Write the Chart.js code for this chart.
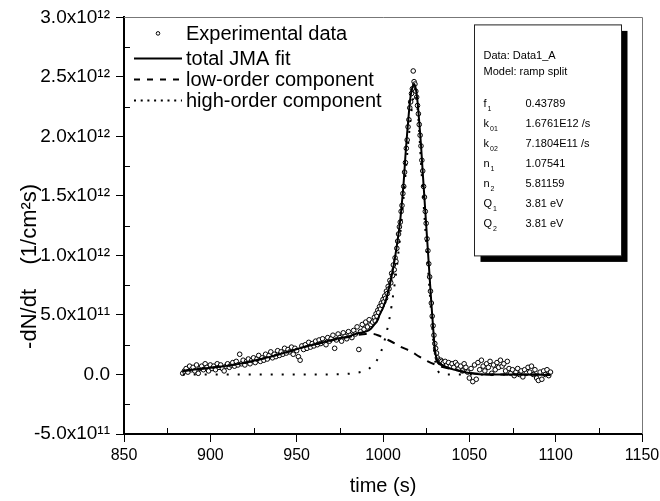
<!DOCTYPE html>
<html>
<head>
<meta charset="utf-8">
<script src="https://cdn.jsdelivr.net/npm/chart.js@4.4.0/dist/chart.umd.min.js"></script>
<style>
  html, body { margin: 0; padding: 0; background: #fff; }
</style>
</head>
<body>
<canvas id="tds" width="660" height="501"></canvas>
<script>
// all rates are in units of 1e10 1/(cm^2 s)
var RATE_UNIT = 1e10;

var expTime = [884, 885, 886, 887, 888, 889, 890, 891, 892, 893, 894, 895, 896, 897, 898, 899,
  900, 901, 902, 903, 904, 905, 906, 907, 908, 909, 910, 911, 912, 913, 914, 915, 916, 917, 918, 919,
  920, 921, 922, 923, 924, 925, 926, 927, 928, 929, 930, 931, 932, 933, 934, 935, 936, 937, 938, 939,
  940, 941, 942, 943, 944, 945, 946, 947, 948, 949, 950, 951, 952, 953, 954, 955, 956, 957, 958, 959,
  960, 961, 962, 963, 964, 965, 966, 967, 968, 969, 970, 971, 972, 973, 974, 975, 976, 977, 978, 979,
  980, 981, 982, 983, 984, 985, 986, 987, 988, 989, 990, 991, 992, 993, 994,
  995, 995.5, 996, 996.5, 997, 997.5, 998, 998.5, 999, 999.5, 1000, 1000.5, 1001, 1001.5, 1002, 1002.5,
  1003, 1003.5, 1004, 1004.5, 1005, 1005.5, 1006, 1006.5, 1007, 1007.5, 1008, 1008.5, 1009, 1009.5,
  1010, 1010.5, 1011, 1011.5, 1012, 1012.5, 1013, 1013.5, 1014, 1014.5, 1015, 1015.5, 1016, 1016.5,
  1017, 1017.5, 1018, 1018.5, 1019, 1019.5, 1020, 1020.5, 1021, 1021.5, 1022, 1022.5, 1023, 1023.5,
  1024, 1024.5, 1025, 1025.5, 1026, 1026.5, 1027, 1027.5, 1028, 1028.5, 1029, 1029.5, 1030, 1030.5,
  1031, 1031.5, 1032, 1032.5, 1033, 1033.5, 1034, 1034.5, 1035,
  1036, 1037, 1038, 1039, 1040, 1041, 1042, 1043, 1044, 1045, 1046, 1047, 1048, 1049, 1050, 1051,
  1052, 1053, 1054, 1055, 1056, 1057, 1058, 1059, 1060, 1061, 1062, 1063, 1064, 1065, 1066, 1067,
  1068, 1069, 1070, 1071, 1072, 1073, 1074, 1075, 1076, 1077, 1078, 1079, 1080, 1081, 1082, 1083,
  1084, 1085, 1086, 1087, 1088, 1089, 1090, 1091, 1092, 1093, 1094, 1095, 1096, 1097];
var expRate = [1, 3, 5, 2, 7, 4, 6, 3, 8, 1, 5, 7, 4, 9, 6, 3,
  8, 5, 7, 4, 9, 6, 8, 5, 3, 7, 9, 6, 8, 10, 7, 11, 8, 17, 9, 12,
  8, 11, 13, 9, 12, 14, 10, 13, 16, 11, 14, 12, 17, 13, 16, 19, 14, 17, 15, 20,
  16, 19, 17, 22, 18, 21, 19, 23, 17, 22, 20, 15, 12, 24, 21, 25, 22, 27, 23, 26,
  24, 28, 25, 29, 26, 30, 27, 25, 31, 28, 30, 33, 22, 29, 34, 31, 28, 35, 32, 30,
  36, 33, 31, 37, 34, 40, 21, 36, 42, 38, 44, 40, 46, 42, 44,
  48, 45, 51, 49, 54, 52, 57, 55, 60, 58, 63, 61, 66, 64, 70, 68,
  74, 72, 79, 77, 85, 83, 92, 88, 98, 95, 106, 112, 118, 124,
  128, 137, 142, 152, 158, 170, 178, 190, 197, 208, 214, 224, 229, 236,
  240, 255, 246, 244, 238, 233, 226, 219, 210, 201, 192, 180, 171, 158,
  149, 137, 127, 114, 104, 93, 82, 70, 60, 49, 41, 33, 26, 22,
  18, 14, 12, 11, 10, 12, 11, 9, 10,
  11, 8, 10, 7, 9, 6, 10, 8, 5, 7, 3, 9, 6, 2, -3, 5,
  -6, 8, -4, 10, 4, 12, 7, 3, 9, 6, 11, 1, 8, 4, 10, 6,
  12, 7, 9, 3, 11, 5, 1, 4, -1, 2, 5, 0, 3, -2, 4, 1,
  6, 2, 7, 0, 4, -3, -5, 2, -4, 3, 0, 4, -1, 2];

var fitTime = [884, 896, 905, 915, 925, 935, 945, 954, 964, 973, 980, 985, 990, 993, 995, 997, 998,
  1000, 1002, 1004, 1006, 1008, 1010, 1011, 1012, 1013, 1014, 1015, 1016, 1017, 1018, 1019, 1020,
  1021, 1022, 1023, 1024, 1025, 1026, 1027, 1028, 1029, 1030, 1031, 1032, 1034, 1036, 1040, 1046,
  1050, 1056, 1065, 1080, 1097];
var fitTotal = [3, 5, 6.5, 8.5, 11.5, 15, 19, 23, 26.5, 30, 32, 34.5, 36, 38.5, 42, 46, 50,
  56, 64, 76, 90, 108, 130, 145, 162, 184, 203, 220, 234, 241, 244, 240, 229,
  212, 193, 170, 148, 126, 104, 82, 60, 40, 22, 13, 10, 8, 6.5, 4.5, 2.3,
  1.2, 0.3, 0, 0, -0.5];

var lowTime = [884, 896, 905, 915, 925, 935, 945, 954, 964, 973, 980, 985, 990, 994, 997, 1000,
  1005, 1010, 1016, 1021, 1026, 1030, 1034, 1040, 1045, 1050, 1056, 1065, 1080, 1097];
var lowRate = [3, 5, 6.5, 8.5, 11.5, 15, 19, 23, 26.5, 29.5, 31.5, 33, 34, 34, 33, 31,
  27.5, 23.5, 19.5, 15, 11, 8.5, 6.5, 4.5, 3, 1.5, 0.5, 0, 0, 0];

var highTime = [884, 960, 975, 980, 985, 988, 990, 992, 994, 996, 998, 1000, 1002, 1004, 1006,
  1008, 1010, 1012, 1014, 1016, 1017.5, 1018.5, 1019.5, 1020.5, 1022, 1023, 1024, 1025, 1026,
  1027, 1028, 1029, 1030, 1031, 1032, 1034, 1036, 1097];
var highRate = [0, 0, 0.3, 0.6, 1.5, 2.5, 3.5, 5, 7.5, 11, 16, 24, 35, 49, 68,
  90, 118, 150, 185, 215, 232, 236, 230, 215, 178, 155, 133, 112, 91,
  70, 50, 30, 14, 6, 2.5, 0.5, 0, 0];

var seriesNames = ['Experimental data', 'total JMA fit', 'low-order component', 'high-order component'];

var xMin = 850, xMax = 1150, xStep = 50;
var yMin = -5e11, yMax = 3e12, yStep = 5e11;
var xTitle = 'time (s)';
var yTitle = '-dN/dt    (1/cm\u00b2s)';

var fitInfo = ['Data: Data1_A', 'Model: ramp split'];
var paramSymbols = [['f', '1'], ['k', '01'], ['k', '02'], ['n', '1'], ['n', '2'], ['Q', '1'], ['Q', '2']];
var paramValues = ['0.43789', '1.6761E12 /s', '7.1804E11 /s', '1.07541', '5.81159', '3.81 eV', '3.81 eV'];

var FONT = "'Liberation Sans', Arial, sans-serif";

function pts(xs, ys) {
  return xs.map(function (x, i) { return {x: x, y: ys[i] * RATE_UNIT}; });
}

function sciLabel(v) {
  if (Math.abs(v) < 1) return '0.0';
  var e = Math.floor(Math.log10(Math.abs(v)) + 1e-9);
  var m = v / Math.pow(10, e);
  var sup = {'0': '\u2070', '1': '\u00b9', '2': '\u00b2', '3': '\u00b3'};
  return m.toFixed(1) + 'x10' + String(e).split('').map(function (c) { return sup[c]; }).join('');
}

// frame on top/right + small inward minor ticks
var framePlugin = {
  id: 'frame',
  beforeDatasetsDraw: function (chart) {
    var ctx = chart.ctx, a = chart.chartArea;
    ctx.save();
    ctx.strokeStyle = '#777';
    ctx.lineWidth = 1;
    ctx.beginPath();
    ctx.moveTo(a.left, Math.round(a.top) + 0.5);
    ctx.lineTo(Math.round(a.right) + 0.5, Math.round(a.top) + 0.5);
    ctx.lineTo(Math.round(a.right) + 0.5, a.bottom);
    ctx.stroke();

    ctx.strokeStyle = '#000';
    ctx.beginPath();
    var xs = chart.scales.x, ys = chart.scales.y;
    for (var i = 0; i < xs.ticks.length - 1; i++) {
      var px = Math.round(xs.getPixelForValue((xs.ticks[i].value + xs.ticks[i + 1].value) / 2)) + 0.5;
      ctx.moveTo(px, a.bottom);
      ctx.lineTo(px, a.bottom - 6);
    }
    for (var j = 0; j < ys.ticks.length - 1; j++) {
      var py = Math.round(ys.getPixelForValue((ys.ticks[j].value + ys.ticks[j + 1].value) / 2)) + 0.5;
      ctx.moveTo(a.left, py);
      ctx.lineTo(a.left + 6, py);
    }
    ctx.stroke();
    ctx.restore();
  }
};

// y title sits below the middle of the axis in the original
var yTitlePlugin = {
  id: 'yTitle',
  afterDraw: function (chart) {
    var ctx = chart.ctx, a = chart.chartArea;
    ctx.save();
    ctx.translate(30, a.top + 249);
    ctx.rotate(-Math.PI / 2);
    ctx.font = '22px ' + FONT;
    ctx.fillStyle = '#000';
    ctx.textAlign = 'center';
    ctx.textBaseline = 'middle';
    ctx.fillText(yTitle, 0, 0);
    ctx.restore();
  }
};

var legendPlugin = {
  id: 'cornerLegend',
  afterDraw: function (chart) {
    var ctx = chart.ctx, a = chart.chartArea;
    var x0 = a.left + 10, x1 = a.left + 58, tx = a.left + 62;
    var rows = [a.top + 16, a.top + 41, a.top + 62, a.top + 83];
    var dashes = [null, [], [6, 7], [2, 4.7]];
    ctx.save();
    ctx.font = '20px ' + FONT;
    ctx.fillStyle = '#000';
    ctx.textBaseline = 'middle';
    ctx.strokeStyle = '#000';
    for (var i = 0; i < seriesNames.length; i++) {
      if (i === 0) {
        ctx.lineWidth = 1;
        ctx.beginPath();
        ctx.arc(a.left + 34, rows[i], 1.8, 0, Math.PI * 2);
        ctx.stroke();
      } else {
        ctx.lineWidth = 2;
        ctx.setLineDash(dashes[i]);
        ctx.beginPath();
        ctx.moveTo(x0, rows[i]);
        ctx.lineTo(x1, rows[i]);
        ctx.stroke();
        ctx.setLineDash([]);
      }
      ctx.fillText(seriesNames[i], tx, rows[i] + 1);
    }
    ctx.restore();
  }
};

var boxPlugin = {
  id: 'fitBox',
  afterDraw: function (chart) {
    var ctx = chart.ctx, a = chart.chartArea;
    var bx = a.right - 167.5, by = a.top + 7.5, bw = 147, bh = 231;
    ctx.save();
    ctx.fillStyle = '#000';
    ctx.fillRect(bx + 6, by + 6, bw, bh);
    ctx.fillStyle = '#fff';
    ctx.fillRect(bx, by, bw, bh);
    ctx.strokeStyle = '#222';
    ctx.lineWidth = 1;
    ctx.strokeRect(bx, by, bw, bh);

    ctx.fillStyle = '#000';
    ctx.textBaseline = 'middle';
    ctx.font = '11px ' + FONT;
    ctx.fillText(fitInfo[0], bx + 9, by + 31);
    ctx.fillText(fitInfo[1], bx + 9, by + 47);
    for (var i = 0; i < paramSymbols.length; i++) {
      var y = by + 79 + i * 20;
      ctx.font = '11px ' + FONT;
      ctx.fillText(paramSymbols[i][0], bx + 9, y);
      var w = ctx.measureText(paramSymbols[i][0]).width;
      ctx.fillText(paramValues[i], bx + 51, y);
      ctx.font = '7px ' + FONT;
      ctx.fillText(paramSymbols[i][1], bx + 9 + w + 1, y + 5);
    }
    ctx.restore();
  }
};

var ctx = document.getElementById('tds');
var graph = new Chart(ctx, {
  type: 'scatter',
  data: {
    datasets: [
      {
        label: seriesNames[1],
        data: pts(fitTime, fitTotal),
        showLine: true,
        borderColor: '#000',
        borderWidth: 2,
        pointRadius: 0,
        cubicInterpolationMode: 'monotone'
      },
      {
        label: seriesNames[2],
        data: pts(lowTime, lowRate),
        showLine: true,
        borderColor: '#000',
        borderWidth: 2,
        borderDash: [8, 7],
        pointRadius: 0,
        cubicInterpolationMode: 'monotone'
      },
      {
        label: seriesNames[3],
        data: pts(highTime, highRate),
        showLine: true,
        borderColor: '#000',
        borderWidth: 2,
        borderDash: [2, 9],
        pointRadius: 0,
        cubicInterpolationMode: 'monotone'
      },
      {
        label: seriesNames[0],
        data: pts(expTime, expRate),
        showLine: false,
        pointRadius: 2.3,
        pointBorderWidth: 1,
        pointBackgroundColor: '#fff',
        pointBorderColor: '#000'
      }
    ]
  },
  options: {
    responsive: false,
    animation: false,
    layout: {padding: {left: 0, top: 17, right: 18, bottom: 0}},
    plugins: {
      legend: {display: false},
      tooltip: {enabled: false}
    },
    scales: {
      x: {
        type: 'linear',
        min: xMin,
        max: xMax,
        ticks: {stepSize: xStep, color: '#000', padding: 4, font: {family: FONT, size: 16},
          callback: function (v) { return String(v); }},
        grid: {drawOnChartArea: false, tickLength: 8, tickColor: '#000', tickWidth: 1},
        border: {color: '#000', width: 2},
        title: {display: true, text: xTitle, color: '#000', font: {family: FONT, size: 20}, padding: {top: 0, bottom: 3}},
        afterFit: function (s) { s.height = 67; s.paddingLeft = 0; s.paddingRight = 0; }
      },
      y: {
        type: 'linear',
        min: yMin,
        max: yMax,
        ticks: {stepSize: yStep, color: '#000', padding: 6, font: {family: FONT, size: 19}, callback: sciLabel},
        grid: {drawOnChartArea: false, tickLength: 8, tickColor: '#000', tickWidth: 1},
        border: {color: '#000', width: 2},
        afterFit: function (s) { s.width = 124; }
      }
    }
  },
  plugins: [framePlugin, yTitlePlugin, legendPlugin, boxPlugin]
});
</script>
</body>
</html>
